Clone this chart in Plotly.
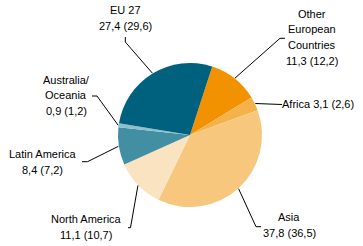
import math
import plotly.graph_objects as go

# ---- data ----
regions = ["Other European Countries", "Africa", "Asia", "North America",
           "Latin America", "Australia/Oceania", "EU 27"]
values_current = [11.3, 3.1, 37.8, 11.1, 8.4, 0.9, 27.4]
values_previous = [12.2, 2.6, 36.5, 10.7, 7.2, 1.2, 29.6]
label_names = [["Other", "European", "Countries"], ["Africa"], ["Asia"], ["North America"],
               ["Latin America"], ["Australia/", "Oceania"], ["EU 27"]]

# ---- style / layout ----
colors = ["#F39200", "#F6B24A", "#F8C77E", "#FAE3C1", "#428EA2", "#8FBFCE", "#00617F"]
W, H = 363, 246
CX, CY, R = 190, 135, 72
ROT = 18

def fmt(v):
    return f"{v:.1f}".replace(".", ",")

label_layout = {
    "EU 27": dict(x=125, y=10, step=16, anchor="center", path=[(125.3, 37), (125.3, 42)]),
    "Other European Countries": dict(x=312, y=14, step=15.5, anchor="center",
                                     path=[(285, 38.3), (280, 38.3)]),
    "Africa": dict(x=280, y=104, step=16, anchor="left", path=[(282, 104.5)], inline=True),
    "Asia": dict(x=289, y=217, step=16, anchor="center", path=[(261, 226.7), (256, 226.7)]),
    "North America": dict(x=86, y=219, step=16, anchor="center", path=[(128, 227.7), (130.5, 227.7)]),
    "Latin America": dict(x=42.5, y=154, step=16, anchor="center", path=[(82, 161.7), (87.5, 161.7)]),
    "Australia/Oceania": dict(x=66, y=80, step=15.3, anchor="center", path=[(92, 96), (97, 96)]),
}

def px2paper(x, y):
    return x / W, 1 - y / H

fig = go.Figure(go.Pie(
    values=values_current, labels=regions, sort=False, direction="clockwise",
    rotation=ROT, textinfo="none", hoverinfo="label+value",
    marker=dict(colors=colors, line=dict(width=0)),
    domain=dict(x=[(CX - R) / W, (CX + R) / W], y=[1 - (CY + R) / H, 1 - (CY - R) / H]),
    showlegend=False,
))

total = sum(values_current)
cum = 0.0
shapes, annotations = [], []
for i, name in enumerate(regions):
    frac = values_current[i] / total
    mid = math.radians(ROT + (cum + frac / 2) * 360)
    cum += frac
    ex, ey = CX + (R + 0.5) * math.sin(mid), CY - (R + 0.5) * math.cos(mid)
    lay = label_layout[name]
    pts = lay["path"] + [(ex, ey)]
    path = "M " + " L ".join(f"{px2paper(*p)[0]},{px2paper(*p)[1]}" for p in pts)
    shapes.append(dict(type="path", path=path, xref="paper", yref="paper",
                       line=dict(color="black", width=1)))
    valtxt = f"{fmt(values_current[i])} ({fmt(values_previous[i])})"
    if lay.get("inline"):
        lines = [label_names[i][0] + " " + valtxt]
    else:
        lines = label_names[i] + [valtxt]
    for j, t in enumerate(lines):
        xp, yp = px2paper(lay["x"], lay["y"] + j * lay["step"])
        annotations.append(dict(text=t, x=xp, y=yp, xref="paper", yref="paper",
                                xanchor=lay["anchor"], yanchor="middle", showarrow=False,
                                font=dict(family="Liberation Sans, Arial", size=11, color="black")))

fig.update_layout(width=W, height=H, margin=dict(l=0, r=0, t=0, b=0),
                  paper_bgcolor="white", plot_bgcolor="white",
                  shapes=shapes, annotations=annotations)
fig.write_html("out.html")
